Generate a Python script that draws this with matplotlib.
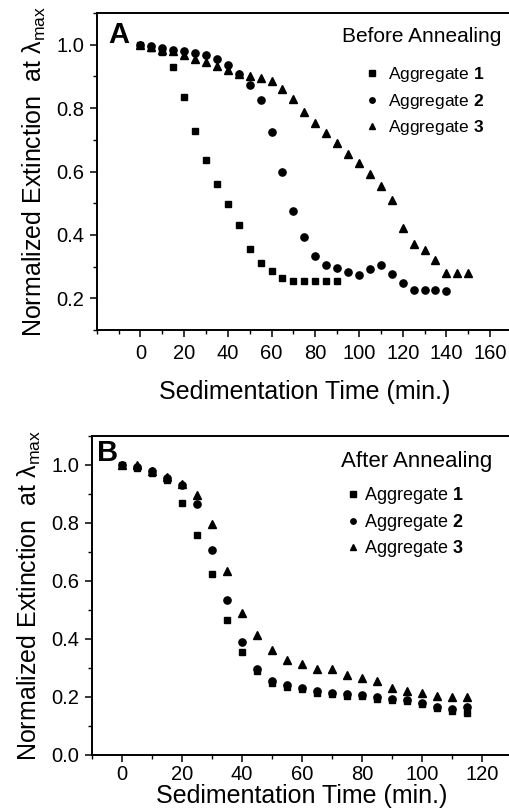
import matplotlib
matplotlib.use("Agg")
import matplotlib.pyplot as plt
from matplotlib.ticker import MultipleLocator

plt.rcParams['font.family'] = ['Liberation Sans', 'DejaVu Sans']
plt.rcParams['mathtext.fontset'] = 'custom'
plt.rcParams['mathtext.rm'] = 'Liberation Sans'
plt.rcParams['mathtext.bf'] = 'Liberation Sans:bold'
plt.rcParams['mathtext.it'] = 'Liberation Sans:italic'

# ---------------- Data: panel A (before annealing) ----------------
a_x1 = list(range(0, 95, 5))
a_y1 = [1.0, 0.99, 0.976, 0.93, 0.836, 0.728, 0.636, 0.56, 0.498, 0.43,
        0.355, 0.31, 0.285, 0.265, 0.253, 0.253, 0.253, 0.253, 0.253]
a_x2 = list(range(0, 145, 5))
a_y2 = [1.0, 0.997, 0.99, 0.984, 0.979, 0.974, 0.966, 0.955, 0.937, 0.908,
        0.873, 0.826, 0.725, 0.597, 0.474, 0.393, 0.335, 0.304, 0.296, 0.283,
        0.275, 0.293, 0.304, 0.278, 0.248, 0.227, 0.227, 0.227, 0.222]
a_x3 = list(range(0, 155, 5))
a_y3 = [1.0, 0.992, 0.982, 0.979, 0.968, 0.955, 0.944, 0.934, 0.919, 0.908,
        0.902, 0.895, 0.886, 0.861, 0.828, 0.789, 0.754, 0.72, 0.689, 0.655,
        0.626, 0.592, 0.554, 0.51, 0.422, 0.372, 0.353, 0.322, 0.28, 0.28, 0.28]

# ---------------- Data: panel B (after annealing) ----------------
b_x = list(range(0, 120, 5))
b_y1 = [1.0, 0.989, 0.974, 0.949, 0.87, 0.759, 0.624, 0.466, 0.354, 0.29,
        0.249, 0.235, 0.226, 0.215, 0.209, 0.205, 0.203, 0.193, 0.188, 0.186,
        0.176, 0.162, 0.153, 0.145]
b_y2 = [1.0, 0.993, 0.978, 0.955, 0.931, 0.867, 0.708, 0.534, 0.388, 0.295,
        0.256, 0.24, 0.232, 0.22, 0.214, 0.21, 0.206, 0.2, 0.194, 0.19,
        0.18, 0.165, 0.16, 0.165]
b_y3 = [1.0, 1.0, 0.98, 0.957, 0.934, 0.898, 0.797, 0.634, 0.489, 0.414,
        0.362, 0.328, 0.313, 0.298, 0.298, 0.275, 0.267, 0.255, 0.232, 0.22,
        0.215, 0.205, 0.2, 0.2]

series_labels = [r'Aggregate $\mathbf{1}$', r'Aggregate $\mathbf{2}$', r'Aggregate $\mathbf{3}$']
markers = ['s', 'o', '^']
msizes = [5.0, 5.2, 5.6]

a_xticks = [0, 20, 40, 60, 80, 100, 120, 140, 160]
a_yticks = [0.2, 0.4, 0.6, 0.8, 1.0]
b_xticks = [0, 20, 40, 60, 80, 100, 120]
b_yticks = [0.0, 0.2, 0.4, 0.6, 0.8, 1.0]

W, H = 509, 811
fig = plt.figure(figsize=(W / 100, H / 100), dpi=100)

def px_axes(l, t, r, b):
    return fig.add_axes([l / W, 1 - b / H, (r - l) / W, (b - t) / H])

axA = px_axes(96.7, 13, 512, 330)
axB = px_axes(92, 436, 512, 755)

ylabel = 'Normalized Extinction  at λ$_{\\mathrm{max}}$'

def style(ax, xticks, yticks, xlim, ylim, xpad, xlabelpad):
    ax.set_xlim(*xlim)
    ax.set_ylim(*ylim)
    ax.set_xticks(xticks)
    ax.set_yticks(yticks)
    ax.set_xticklabels([str(v) for v in xticks])
    ax.set_yticklabels(['%.1f' % v for v in yticks])
    ax.xaxis.set_minor_locator(MultipleLocator(10))
    ax.yaxis.set_minor_locator(MultipleLocator(0.1))
    ax.tick_params(which='major', direction='out', length=5, width=1.1,
                   labelsize=14.5, pad=4, colors='black')
    ax.tick_params(axis='x', which='major', pad=xpad)
    ax.tick_params(which='minor', direction='out', length=3, width=1.0)
    for s in ax.spines.values():
        s.set_linewidth(1.4)
    ax.set_xlabel('Sedimentation Time (min.)', fontsize=18, labelpad=xlabelpad)
    ax.set_ylabel(ylabel, fontsize=18, labelpad=6)

# Panel A
for xs, ys, m, ms, lab in zip([a_x1, a_x2, a_x3], [a_y1, a_y2, a_y3], markers, msizes, series_labels):
    axA.plot(xs, ys, linestyle='none', marker=m, markersize=ms, color='black', label=lab)
style(axA, a_xticks, a_yticks, (-20, 170), (0.1, 1.1), xpad=5, xlabelpad=12)
axA.text(0.027, 0.975, 'A', transform=axA.transAxes, fontsize=21, fontweight='bold',
         ha='left', va='top')
axA.text(0.975, 0.925, 'Before Annealing', transform=axA.transAxes, fontsize=15,
         ha='right', va='center')
legA = axA.legend(loc='upper left', bbox_to_anchor=(0.645, 0.835), frameon=False,
                  fontsize=12.5, handlelength=0.8, handletextpad=0.55,
                  labelspacing=0.42, markerscale=0.75, borderpad=0, borderaxespad=0)

# Panel B
for ys, m, ms, lab in zip([b_y1, b_y2, b_y3], markers, msizes, series_labels):
    axB.plot(b_x, ys, linestyle='none', marker=m, markersize=ms, color='black', label=lab)
style(axB, b_xticks, b_yticks, (-10, 130), (0.0, 1.1), xpad=2, xlabelpad=0)
axB.text(0.012, 0.99, 'B', transform=axB.transAxes, fontsize=21, fontweight='bold',
         ha='left', va='top')
axB.text(0.952, 0.92, 'After Annealing', transform=axB.transAxes, fontsize=16,
         ha='right', va='center')
legB = axB.legend(loc='upper left', bbox_to_anchor=(0.605, 0.845), frameon=False,
                  fontsize=13, handlelength=0.8, handletextpad=0.2,
                  labelspacing=0.3, markerscale=0.75, borderpad=0, borderaxespad=0)

fig.savefig('out.png', dpi=100)
